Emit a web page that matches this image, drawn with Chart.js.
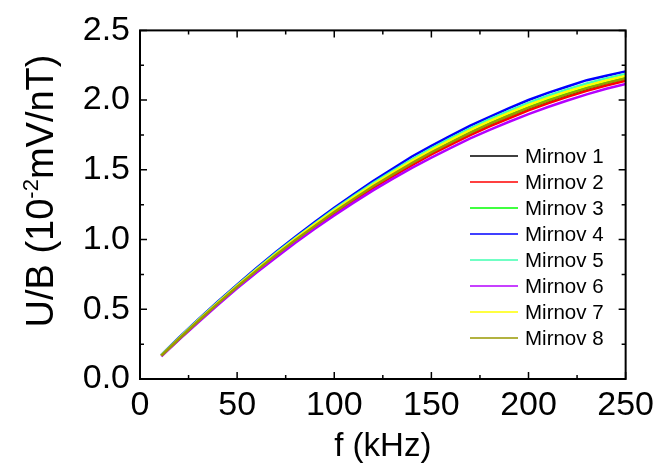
<!DOCTYPE html>
<html>
<head>
<meta charset="utf-8">
<script src="https://cdn.jsdelivr.net/npm/chart.js@4.4.0/dist/chart.umd.min.js"></script>
<style>
    html, body { margin: 0; padding: 0; background: #fff; }
    canvas { display: block; }
</style>
</head>
<body>
<canvas id="coilChart" width="660" height="471"></canvas>
<script>
// Fréquences (kHz)
const freqs = [11, 20, 30, 40, 50, 60, 70, 80, 90, 100, 110, 120, 130, 140, 150, 160, 170, 180, 190, 200, 210, 220, 230, 240, 250];

// Réponse U/B de chaque sonde (10^-2 mV/nT)
const mirnov1 = [0.167, 0.287, 0.415, 0.540, 0.661, 0.776, 0.888, 0.995, 1.097, 1.196, 1.289, 1.380, 1.464, 1.546, 1.622, 1.694, 1.763, 1.827, 1.886, 1.941, 1.992, 2.038, 2.081, 2.120, 2.153];
const mirnov2 = [0.166, 0.284, 0.412, 0.537, 0.657, 0.771, 0.882, 0.988, 1.090, 1.187, 1.280, 1.370, 1.453, 1.534, 1.610, 1.681, 1.749, 1.812, 1.870, 1.926, 1.977, 2.023, 2.066, 2.105, 2.139];
const mirnov3 = [0.168, 0.288, 0.418, 0.543, 0.664, 0.780, 0.892, 0.999, 1.102, 1.201, 1.296, 1.387, 1.472, 1.554, 1.631, 1.703, 1.772, 1.836, 1.895, 1.951, 2.003, 2.049, 2.091, 2.129, 2.162];
const mirnov4 = [0.173, 0.296, 0.427, 0.554, 0.677, 0.796, 0.911, 1.020, 1.126, 1.228, 1.325, 1.419, 1.507, 1.596, 1.672, 1.746, 1.817, 1.880, 1.943, 2.001, 2.052, 2.098, 2.143, 2.175, 2.206];
const mirnov5 = [0.171, 0.293, 0.423, 0.549, 0.671, 0.789, 0.903, 1.011, 1.116, 1.217, 1.313, 1.405, 1.492, 1.576, 1.655, 1.728, 1.798, 1.863, 1.923, 1.980, 2.031, 2.077, 2.119, 2.156, 2.188];
const mirnov6 = [0.163, 0.280, 0.407, 0.531, 0.650, 0.763, 0.872, 0.977, 1.077, 1.173, 1.265, 1.353, 1.435, 1.514, 1.588, 1.658, 1.725, 1.787, 1.845, 1.900, 1.951, 1.997, 2.041, 2.081, 2.116];
const mirnov7 = [0.170, 0.290, 0.420, 0.546, 0.667, 0.784, 0.897, 1.005, 1.109, 1.208, 1.303, 1.395, 1.481, 1.564, 1.642, 1.715, 1.784, 1.849, 1.908, 1.965, 2.016, 2.062, 2.104, 2.141, 2.174];
const mirnov8 = [0.167, 0.287, 0.416, 0.541, 0.662, 0.777, 0.889, 0.996, 1.098, 1.197, 1.291, 1.382, 1.466, 1.548, 1.625, 1.696, 1.765, 1.829, 1.888, 1.944, 1.995, 2.041, 2.084, 2.122, 2.155];

const probeNames = ['Mirnov 1', 'Mirnov 2', 'Mirnov 3', 'Mirnov 4', 'Mirnov 5', 'Mirnov 6', 'Mirnov 7', 'Mirnov 8'];
const probeColors = ['#000000', '#ff0000', '#00ff00', '#0000ff', '#40ffb0', '#b400ff', '#ffff00', '#999900'];
const probeData = [mirnov1, mirnov2, mirnov3, mirnov4, mirnov5, mirnov6, mirnov7, mirnov8];

const FONT = '"Liberation Sans", Arial, sans-serif';

// Cadre, graduations vers l'intérieur, titres et légende
const framePlugin = {
    id: 'frame',
    afterDatasetsDraw(chart) {
        const ctx = chart.ctx;
        const area = chart.chartArea;
        const xs = chart.scales.x;
        const ys = chart.scales.y;

        ctx.save();
        ctx.strokeStyle = '#000';
        ctx.lineWidth = 2;
        ctx.strokeRect(area.left, area.top, area.right - area.left, area.bottom - area.top);

        ctx.lineWidth = 1.5;
        ctx.beginPath();
        for (let v = 0; v <= 250; v += 25) {
            const px = xs.getPixelForValue(v);
            const len = v % 50 === 0 ? 7 : 4;
            ctx.moveTo(px, area.bottom);
            ctx.lineTo(px, area.bottom - len);
            ctx.moveTo(px, area.top);
            ctx.lineTo(px, area.top + len);
        }
        for (let i = 0; i <= 10; i++) {
            const py = ys.getPixelForValue(i * 0.25);
            const len = i % 2 === 0 ? 7 : 4;
            ctx.moveTo(area.left, py);
            ctx.lineTo(area.left + len, py);
            ctx.moveTo(area.right, py);
            ctx.lineTo(area.right - len, py);
        }
        ctx.stroke();

        // Légende
        ctx.font = '20.5px ' + FONT;
        ctx.textBaseline = 'middle';
        ctx.textAlign = 'left';
        chart.data.datasets.forEach((ds, i) => {
            const y = 156 + i * 26;
            ctx.strokeStyle = ds.borderColor;
            ctx.lineWidth = 1.5;
            ctx.beginPath();
            ctx.moveTo(470, y);
            ctx.lineTo(518, y);
            ctx.stroke();
            ctx.fillStyle = '#000';
            ctx.fillText(ds.label, 525, y + 1);
        });

        // Titre de l'axe x
        ctx.font = '33px ' + FONT;
        ctx.textAlign = 'center';
        ctx.textBaseline = 'alphabetic';
        ctx.fillText('f (kHz)', (area.left + area.right) / 2, 456);

        // Titre de l'axe y avec exposant
        const partA = 'U/B (10';
        const partB = '-2';
        const partC = 'mV/nT)';
        ctx.font = '38px ' + FONT;
        const wA = ctx.measureText(partA).width;
        const wC = ctx.measureText(partC).width;
        ctx.font = '22px ' + FONT;
        const wB = ctx.measureText(partB).width;
        const total = wA + wB + wC;
        ctx.translate(53, 191);
        ctx.rotate(-Math.PI / 2);
        ctx.textAlign = 'left';
        const x0 = -total / 2;
        ctx.font = '38px ' + FONT;
        ctx.fillText(partA, x0, 0);
        ctx.font = '22px ' + FONT;
        ctx.fillText(partB, x0 + wA, -15);
        ctx.font = '38px ' + FONT;
        ctx.fillText(partC, x0 + wA + wB, 0);
        ctx.restore();
    }
};

const datasets = probeNames.map((name, i) => ({
    label: name,
    data: freqs.map((f, j) => ({ x: f, y: probeData[i][j] })),
    borderColor: probeColors[i],
    backgroundColor: probeColors[i],
    borderWidth: 2.5,
    pointRadius: 0,
    fill: false,
    tension: 0,
    order: 8 - i
}));

new Chart(document.getElementById('coilChart').getContext('2d'), {
    type: 'line',
    data: { datasets: datasets },
    options: {
        responsive: false,
        animation: false,
        layout: { padding: { top: 23, right: 32, left: 0, bottom: 0 } },
        plugins: {
            legend: { display: false },
            tooltip: { enabled: false }
        },
        scales: {
            x: {
                type: 'linear',
                min: 0,
                max: 250,
                grid: { display: false, drawTicks: false },
                border: { display: false },
                ticks: {
                    stepSize: 50,
                    padding: 6,
                    color: '#000',
                    font: { family: FONT, size: 34 }
                },
                afterFit: scale => { scale.height = 92; }
            },
            y: {
                type: 'linear',
                min: 0,
                max: 2.5,
                grid: { display: false, drawTicks: false },
                border: { display: false },
                ticks: {
                    stepSize: 0.5,
                    padding: 10,
                    color: '#000',
                    font: { family: FONT, size: 34 },
                    callback: v => v.toFixed(1)
                },
                afterFit: scale => { scale.width = 140; }
            }
        }
    },
    plugins: [framePlugin]
});
</script>
</body>
</html>
